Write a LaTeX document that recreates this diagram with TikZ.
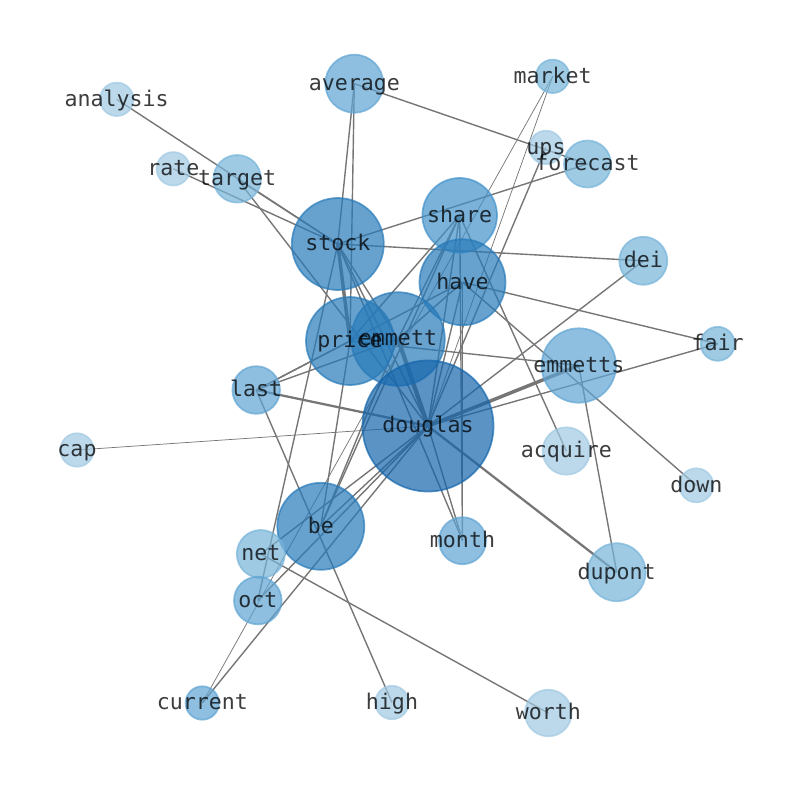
\documentclass[tikz,border=0pt]{standalone}
\usepackage{fontspec}
\newfontfamily\labelfont{DejaVu Sans Mono}
\definecolor{ct1}{RGB}{160,201,226}
\definecolor{ct2}{RGB}{118,180,217}
\definecolor{ct3}{RGB}{95,164,211}
\definecolor{ct4}{RGB}{65,145,202}
\definecolor{ct5}{RGB}{39,122,185}
\definecolor{ct6}{RGB}{21,101,172}
\definecolor{edgegray}{RGB}{118,118,118}
\begin{document}
\begin{tikzpicture}[x=0.75pt,y=-0.75pt,
  edge/.style={draw=edgegray, line width=1.05pt},
  thinedge/.style={draw=edgegray, line width=0.55pt},
  midedge/.style={draw=edgegray, line width=1.7pt},
  thickedge/.style={draw=edgegray, line width=2.6pt},
  heavyedge/.style={draw=edgegray, line width=3.2pt},
  dot/.style args={#1/#2}{circle, inner sep=0pt, outer sep=0pt, minimum size=#1*0.75pt,
     line width=1.3pt, draw=#2, fill=#2, opacity=0.7},
  lbl/.style={font=\labelfont\fontsize{16.2}{16.2}\selectfont, text=black, text opacity=0.76,
     inner sep=0pt, anchor=base, yshift=-5.2pt}]
\useasboundingbox (0,0) rectangle (794,790);
% positions
\coordinate (analysis) at (116.7,99.3);
\coordinate (average) at (354.3,83.7);
\coordinate (market) at (552.7,76.3);
\coordinate (ups) at (546,147.4);
\coordinate (forecast) at (587.5,164);
\coordinate (rate) at (173.3,168.8);
\coordinate (target) at (237.2,178.8);
\coordinate (stock) at (337.8,244);
\coordinate (share) at (459.7,215.3);
\coordinate (have) at (462.5,282.2);
\coordinate (dei) at (643.3,260.8);
\coordinate (price) at (350,341);
\coordinate (emmett) at (398,339);
\coordinate (fair) at (717.7,343.8);
\coordinate (emmetts) at (578.8,365.5);
\coordinate (last) at (256.2,390);
\coordinate (douglas) at (428,426);
\coordinate (cap) at (77,450);
\coordinate (acquire) at (566.3,451);
\coordinate (down) at (696.3,485.3);
\coordinate (be) at (320.8,526.3);
\coordinate (month) at (462.5,540.7);
\coordinate (net) at (260.8,554);
\coordinate (dupont) at (616.7,572.2);
\coordinate (oct) at (257.8,600.5);
\coordinate (current) at (202.3,703);
\coordinate (high) at (392,702.5);
\coordinate (worth) at (548.3,713);
% edges
\draw[edge] (analysis) -- (stock);
\draw[edge] (rate) -- (stock);
\draw[edge] (target) -- (stock);
\draw[edge] (target) -- (douglas);
\draw[edge] (average) -- (stock);
\draw[edge] (average) -- (price);
\draw[edge] (average) -- (forecast);
\draw[thinedge] (market) -- (douglas);
\draw[thinedge] (market) -- (current);
\draw[edge] (ups) -- (douglas);
\draw[edge] (forecast) -- (stock);
\draw[edge] (stock) -- (dei);
\draw[edge] (stock) -- (douglas);
\draw[edge] (stock) -- (emmett);
\draw[edge] (stock) -- (month);
\draw[edge] (stock) -- (oct);
\draw[thickedge] (stock) -- (price);
\draw[edge] (share) -- (be);
\draw[edge] (share) -- (douglas);
\draw[edge] (share) -- (month);
\draw[edge] (share) -- (acquire);
\draw[edge] (share) -- (price);
\draw[edge] (share) -- (emmett);
\draw[edge] (have) -- (fair);
\draw[edge] (have) -- (down);
\draw[edge] (have) -- (last);
\draw[edge] (have) -- (douglas);
\draw[edge] (have) -- (month);
\draw[edge] (have) -- (emmett);
\draw[heavyedge] (emmett) -- (douglas);
\draw[edge] (emmett) -- (last);
\draw[edge] (emmett) -- (be);
\draw[edge] (price) -- (emmetts);
\draw[edge] (price) -- (last);
\draw[edge] (price) -- (be);
\draw[thickedge] (douglas) -- (emmetts);
\draw[edge] (douglas) -- (fair);
\draw[edge] (douglas) -- (dei);
\draw[midedge] (douglas) -- (last);
\draw[thinedge] (douglas) -- (cap);
\draw[edge] (douglas) -- (be);
\draw[edge] (douglas) -- (oct);
\draw[edge] (douglas) -- (current);
\draw[edge] (douglas) -- (net);
\draw[edge] (douglas) -- (month);
\draw[midedge] (douglas) -- (dupont);
\draw[edge] (emmetts) -- (dupont);
\draw[edge] (last) -- (high);
\draw[edge] (net) -- (worth);
% node discs
\node[dot=33.4/ct1] (analysis-c) at (analysis) {};
\node[dot=58/ct3] (average-c) at (average) {};
\node[dot=33.4/ct2] (market-c) at (market) {};
\node[dot=33.4/ct1] (ups-c) at (ups) {};
\node[dot=47/ct2] (forecast-c) at (forecast) {};
\node[dot=33.4/ct1] (rate-c) at (rate) {};
\node[dot=47.6/ct2] (target-c) at (target) {};
\node[dot=92/ct5] (stock-c) at (stock) {};
\node[dot=74.6/ct4] (share-c) at (share) {};
\node[dot=86/ct5] (have-c) at (have) {};
\node[dot=48/ct2] (dei-c) at (dei) {};
\node[dot=88/ct5] (price-c) at (price) {};
\node[dot=93.6/ct5] (emmett-c) at (emmett) {};
\node[dot=34/ct2] (fair-c) at (fair) {};
\node[dot=74.4/ct3] (emmetts-c) at (emmetts) {};
\node[dot=47.6/ct3] (last-c) at (last) {};
\node[dot=131/ct6] (douglas-c) at (douglas) {};
\node[dot=33.4/ct1] (cap-c) at (cap) {};
\node[dot=47.4/ct1] (acquire-c) at (acquire) {};
\node[dot=34/ct1] (down-c) at (down) {};
\node[dot=87/ct5] (be-c) at (be) {};
\node[dot=47/ct3] (month-c) at (month) {};
\node[dot=48/ct2] (net-c) at (net) {};
\node[dot=58/ct2] (dupont-c) at (dupont) {};
\node[dot=47.6/ct3] (oct-c) at (oct) {};
\node[dot=33.4/ct3] (current-c) at (current) {};
\node[dot=33.4/ct1] (high-c) at (high) {};
\node[dot=46.6/ct1] (worth-c) at (worth) {};
% labels
\foreach \n in {analysis,average,market,ups,forecast,rate,target,stock,share,have,dei,price,emmett,fair,emmetts,last,douglas,cap,acquire,down,be,month,net,dupont,oct,current,high,worth}
  \node[lbl] (\n-l) at (\n) {\n};
\end{tikzpicture}
\end{document}
